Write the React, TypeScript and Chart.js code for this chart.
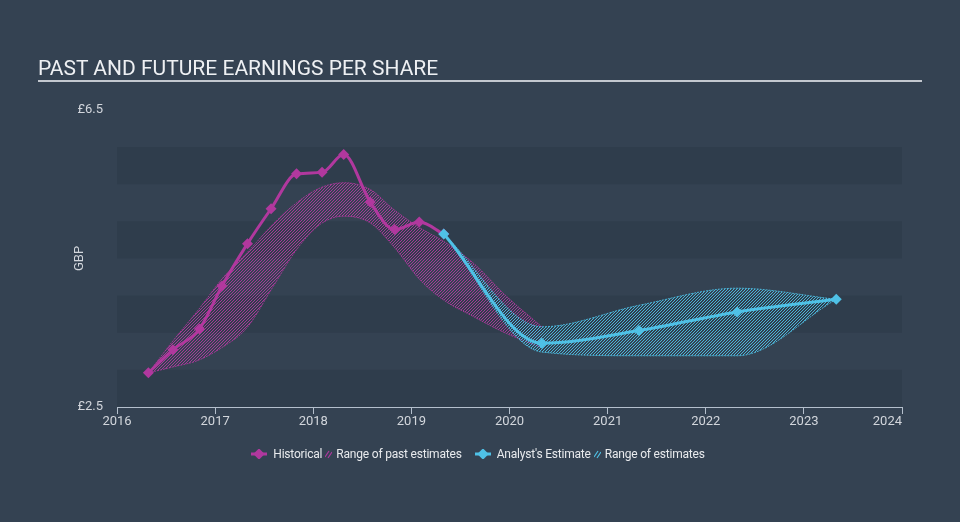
import React, { useEffect, useRef } from 'react';
import { Chart, registerables } from 'chart.js';

Chart.register(...registerables);

// ---- data ----
const histDates = [2016.32, 2016.57, 2016.84, 2017.07, 2017.33, 2017.57, 2017.83, 2018.09, 2018.31, 2018.58, 2018.83, 2019.08, 2019.33];
const histEps = [2.96, 3.27, 3.55, 4.13, 4.7, 5.17, 5.64, 5.66, 5.9, 5.26, 4.89, 4.99, 4.83];

const estDates = [2019.33, 2020.33, 2021.32, 2022.32, 2023.33];
const estEps = [4.83, 3.36, 3.53, 3.78, 3.95];

const pastRangeDates = [2016.32, 2016.57, 2016.83, 2017.08, 2017.32, 2017.59, 2017.83, 2018.07, 2018.31, 2018.58, 2018.82, 2019.09, 2019.33, 2019.63, 2019.97, 2020.33];
const pastRangeHigh = [2.96, 3.39, 3.81, 4.24, 4.57, 4.96, 5.25, 5.45, 5.52, 5.43, 5.16, 4.91, 4.73, 4.44, 3.99, 3.58];
const pastRangeLow = [2.96, 3.04, 3.13, 3.31, 3.56, 4.12, 4.62, 4.96, 5.07, 4.98, 4.66, 4.21, 3.94, 3.72, 3.49, 3.3];

const estRangeDates = [2019.33, 2020.33, 2021.32, 2022.32, 2023.33];
const estRangeHigh = [4.83, 3.58, 3.87, 4.1, 3.95];
const estRangeLow = [4.83, 3.24, 3.19, 3.19, 3.95];

const yearTicks = [2016, 2017, 2018, 2019, 2020, 2021, 2022, 2023, 2024];
const yTickValues = [2.5, 6.5];
const shadedBands = [[2.5, 3], [3.5, 4], [4.5, 5], [5.5, 6]];

// ---- styles ----
const BG = '#344252';
const BAND = '#2f3d4c';
const MAGENTA = '#b1389e';
const CYAN = '#4fc1e6';
const AXIS = '#b4bfcc';
const TICK = '#d2d6dc';
const FONT = 'Roboto, "Open Sans", sans-serif';

const toXY = (xs: number[], ys: number[]) => xs.map((x, i) => ({ x, y: ys[i] }));

function HatchIcon({ color }: { color: string }) {
  return (
    <svg width="7" height="10" style={{ margin: '0 4px 0 3px' }}>
      <line x1="0" y1="8" x2="4" y2="2" stroke={color} strokeWidth="1.2" />
      <line x1="3" y1="9" x2="7" y2="3" stroke={color} strokeWidth="1.2" />
    </svg>
  );
}

function LineIcon({ color }: { color: string }) {
  return (
    <svg width="16" height="10" style={{ marginRight: 6 }}>
      <line x1="0" y1="5" x2="16" y2="5" stroke={color} strokeWidth="3" />
      <rect x="4" y="1" width="8" height="8" fill={color} transform="rotate(45 8 5)" />
    </svg>
  );
}

export default function App() {
  const ref = useRef<HTMLCanvasElement>(null);

  useEffect(() => {
    const canvas = ref.current!;
    const ctx = canvas.getContext('2d')!;
    const hatch = (rgba: string) => {
      const c = document.createElement('canvas');
      c.width = 3;
      c.height = 3;
      const g = c.getContext('2d')!;
      g.fillStyle = rgba;
      for (let i = 0; i < 3; i++) for (let j = 0; j < 3; j++) if ((i + j) % 3 === 2) g.fillRect(i, j, 1, 1);
      return ctx.createPattern(c, 'repeat')!;
    };
    const hatchMagenta = hatch('rgba(178,56,160,0.9)');
    const hatchCyan = hatch('rgba(79,193,230,0.9)');

    const bandsPlugin = {
      id: 'bands',
      beforeDatasetsDraw(chart: any) {
        const { ctx: c, chartArea, scales } = chart;
        const y = scales.y;
        c.save();
        c.fillStyle = BAND;
        shadedBands.forEach(([a, b]) => {
          const y1 = y.getPixelForValue(b);
          const y2 = y.getPixelForValue(a);
          c.fillRect(chartArea.left, y1, chartArea.right - chartArea.left, y2 - y1);
        });
        c.restore();
      },
      afterDraw(chart: any) {
        const xs = chart.scales.x;
        const items = xs.getLabelItems();
        const last = items[items.length - 1];
        if (!last) return;
        const c = chart.ctx;
        c.save();
        c.font = `13px ${FONT}`;
        c.fillStyle = TICK;
        c.textAlign = 'right';
        c.textBaseline = last.options.textBaseline;
        c.fillText(String(yearTicks[yearTicks.length - 1]), xs.getPixelForValue(yearTicks[yearTicks.length - 1]), last.options.translation[1] + (last.textOffset || 0));
        c.restore();
      },
    };

    const chart = new Chart(canvas, {
      type: 'line',
      data: {
        datasets: [
          {
            label: "Analyst's Estimate",
            data: toXY(estDates, estEps),
            borderColor: CYAN,
            backgroundColor: CYAN,
            borderWidth: 3,
            pointStyle: 'rectRot',
            pointRadius: 5.5,
            pointBorderWidth: 0,
            fill: false,
            cubicInterpolationMode: 'monotone',
            order: 0,
          },
          {
            label: 'Historical',
            data: toXY(histDates, histEps),
            borderColor: MAGENTA,
            backgroundColor: MAGENTA,
            borderWidth: 3,
            pointStyle: 'rectRot',
            pointRadius: 5.5,
            pointBorderWidth: 0,
            fill: false,
            cubicInterpolationMode: 'monotone',
            order: 1,
          },
          {
            label: 'Range of estimates',
            data: toXY(estRangeDates, estRangeHigh),
            borderColor: 'rgba(79,193,230,0.85)',
            borderWidth: 1,
            borderDash: [2, 1],
            pointRadius: 0,
            backgroundColor: hatchCyan,
            fill: '+1',
            cubicInterpolationMode: 'monotone',
            order: 2,
          },
          {
            label: 'Range of estimates (low)',
            data: toXY(estRangeDates, estRangeLow),
            borderColor: 'rgba(79,193,230,0.85)',
            borderWidth: 1,
            borderDash: [2, 1],
            pointRadius: 0,
            fill: false,
            cubicInterpolationMode: 'monotone',
            order: 3,
          },
          {
            label: 'Range of past estimates',
            data: toXY(pastRangeDates, pastRangeHigh),
            borderColor: 'rgba(178,56,160,0.85)',
            borderWidth: 1,
            borderDash: [2, 1],
            pointRadius: 0,
            backgroundColor: hatchMagenta,
            fill: '+1',
            cubicInterpolationMode: 'monotone',
            order: 4,
          },
          {
            label: 'Range of past estimates (low)',
            data: toXY(pastRangeDates, pastRangeLow),
            borderColor: 'rgba(178,56,160,0.85)',
            borderWidth: 1,
            borderDash: [2, 1],
            pointRadius: 0,
            fill: false,
            cubicInterpolationMode: 'monotone',
            order: 5,
          },
        ],
      },
      options: {
        responsive: false,
        animation: false,
        layout: { padding: { top: 110, right: 58, left: 0, bottom: 0 } },
        plugins: { legend: { display: false }, tooltip: { enabled: false } },
        scales: {
          x: {
            type: 'linear',
            min: 2016,
            max: 2024,
            afterBuildTicks: (s: any) => {
              s.ticks = yearTicks.map((v) => ({ value: v }));
            },
            afterFit: (s: any) => {
              s.height = 115;
            },
            grid: { display: true, drawOnChartArea: false, drawTicks: true, tickLength: 7, color: AXIS },
            border: { display: true, color: AXIS, width: 1 },
            ticks: {
              color: TICK,
              font: { family: FONT, size: 13 },
              padding: 0,
              maxRotation: 0,
              autoSkip: false,
              callback: (v: any) => (v === yearTicks[yearTicks.length - 1] ? '' : String(v)),
            },
          },
          y: {
            min: 2.5,
            max: 6.5,
            afterBuildTicks: (s: any) => {
              s.ticks = yTickValues.map((v) => ({ value: v }));
            },
            afterFit: (s: any) => {
              s.width = 117;
            },
            grid: { display: false },
            border: { display: false },
            ticks: {
              color: TICK,
              font: { family: FONT, size: 13 },
              padding: 6,
              callback: (v: any) => '£' + v,
            },
            title: {
              display: true,
              text: 'GBP',
              color: TICK,
              font: { family: FONT, size: 13 },
              padding: { top: 72, bottom: 0 },
            },
          },
        },
      },
      plugins: [bandsPlugin],
    } as any);

    return () => chart.destroy();
  }, []);

  return (
    <div style={{ position: 'fixed', left: 0, top: 0, width: 960, height: 522, background: BG, overflow: 'hidden', fontFamily: FONT }}>
      <canvas ref={ref} width={960} height={522} style={{ position: 'absolute', left: 0, top: 0, width: 960, height: 522 }} />
      <div style={{ position: 'absolute', left: 38, top: 56, fontSize: 21, color: '#eef0f3', lineHeight: '24px', whiteSpace: 'nowrap' }}>
        PAST AND FUTURE EARNINGS PER SHARE
      </div>
      <div style={{ position: 'absolute', left: 38, top: 80, width: 884, height: 2, background: '#c3c8cf' }} />
      <div
        style={{
          position: 'absolute',
          left: 0,
          top: 446,
          width: 956,
          display: 'flex',
          justifyContent: 'center',
          alignItems: 'center',
          fontSize: 12,
          letterSpacing: '-0.2px',
          color: '#e8eaed',
          lineHeight: '16px',
          whiteSpace: 'nowrap',
        }}
      >
        <LineIcon color={MAGENTA} />
        <span>Historical</span>
        <HatchIcon color={MAGENTA} />
        <span>Range of past estimates</span>
        <span style={{ width: 13 }} />
        <LineIcon color={CYAN} />
        <span>Analyst's Estimate</span>
        <HatchIcon color={CYAN} />
        <span>Range of estimates</span>
      </div>
    </div>
  );
}
